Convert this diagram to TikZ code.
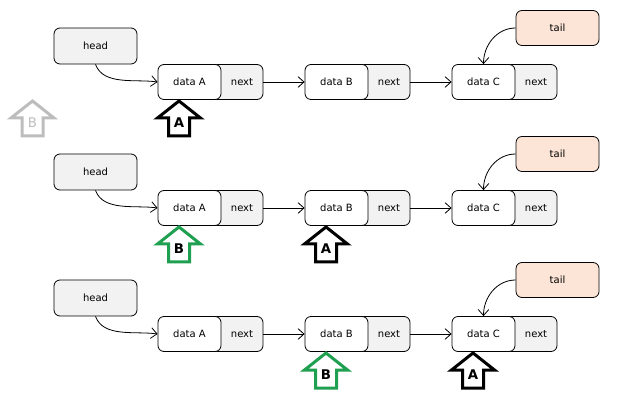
\documentclass[tikz,border=0pt]{standalone}
\usepackage{fontspec}
\setmainfont{DejaVu Sans}
\usetikzlibrary{arrows.meta}
\definecolor{boxgray}{HTML}{F2F2F2}
\definecolor{tailfill}{HTML}{FCE4D6}
\definecolor{ptrgreen}{HTML}{1FA050}
\definecolor{ptrgray}{HTML}{BDBDBD}
\tikzset{
  box/.style={draw, rounded corners=4.5pt, line width=0.6pt, inner sep=0pt,
    font=\fontsize{7.5}{9}\selectfont},
  datapart/.style={box, fill=white, minimum width=47.25pt, minimum height=26.25pt},
  nextpart/.style={box, fill=boxgray, minimum width=39pt, minimum height=26.25pt},
  headbox/.style={box, fill=boxgray, minimum width=62.25pt, minimum height=27pt},
  tailbox/.style={box, fill=tailfill, minimum width=62.25pt, minimum height=26.25pt},
  link/.style={-{Straight Barb[length=4.5pt,width=8pt]}, line width=0.6pt},
}
% block arrow: name, x, y of tip, colour, letter options, letter
\newcommand{\ptr}[6]{%
  \draw[#4, line width=2.25pt, miter limit=10] (#2,#3) -- ++(21.5,17) -- ++(-11,0)
    -- ++(0,18) -- ++(-21,0) -- ++(0,-18) -- ++(-11,0) -- cycle;
  \node[font=\bfseries\fontsize{10}{12}\selectfont, #5] (#1) at (#2,#3+22) {#6};
}
\begin{document}
\begin{tikzpicture}[x=0.75pt, y=-0.75pt]
				\useasboundingbox (0,0) rectangle (617,402);
				
				\foreach \r/\y in {1/82, 2/208, 3/334}{
					\node[headbox] (h\r) at (95.5,\y-36) {head};
					\node[tailbox] (t\r) at (557.5,\y-54) {tail};
					\foreach \d/\x in {A/189.5, B/336.5, C/483.5}{
						\node[nextpart] (n\d\r) at (\x+47.5,\y) {\hspace*{7.5pt}next};
						\node[datapart] (d\d\r) at (\x,\y) {data \d};
					}
					\draw[link] (h\r.south) to[out=-70,in=172,looseness=0.9] (dA\r.west);
					\draw[link] (nA\r.east) -- (dB\r.west);
					\draw[link] (nB\r.east) -- (dC\r.west);
					\draw[link] (t\r.west) to[out=180,in=90] (dC\r.north);
				}
				
				\ptr{pB1}{32.5}{101}{ptrgray}{text=ptrgray, font=\fontsize{10}{12}\selectfont}{B}
				\ptr{pA1}{179}{101}{black}{}{A}
				
				\ptr{pB2}{179}{227}{ptrgreen}{}{B}
				\ptr{pA2}{326}{227}{black}{}{A}
				
				\ptr{pB3}{326}{353}{ptrgreen}{}{B}
				\ptr{pA3}{473}{353}{black}{}{A}
			\end{tikzpicture}
\end{document}
